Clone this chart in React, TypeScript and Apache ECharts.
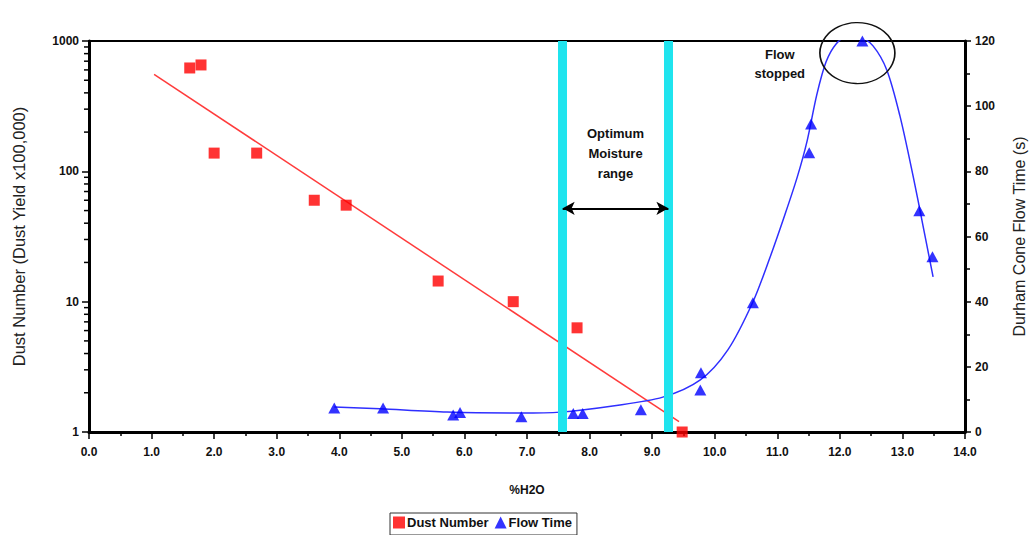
import React, { useEffect, useRef } from "react";
import * as echarts from "echarts";

// ---- Data ----
const dustX = [1.61, 1.79, 2.0, 2.68, 3.6, 4.11, 5.58, 6.78, 7.8, 9.48];
const dustY = [621, 655, 138, 138, 60, 55, 14.4, 10, 6.3, 1];

const trendX = [1.04, 9.43];
const trendY = [555, 1.2];

const flowX = [3.92, 4.7, 5.82, 5.93, 6.91, 7.74, 7.89, 8.82, 9.77, 9.78, 10.61, 11.51, 11.54, 12.36, 13.27, 13.48];
const flowY = [7.4, 7.4, 5.2, 6.0, 4.7, 5.7, 5.7, 6.8, 12.9, 18.2, 39.7, 85.7, 94.5, 120, 67.9, 53.8];

// fitted curve
const curveX = [3.92, 4.65, 5.72, 6.89, 7.53, 8.37, 9.17, 9.77, 10.21, 10.61, 10.88, 11.12, 11.32, 11.48, 11.63, 11.78, 11.94, 12.13, 12.32, 12.53, 12.75, 12.96, 13.17, 13.33, 13.49];
const curveY = [7.7, 7.1, 6.1, 5.8, 6.1, 8.0, 10.7, 16.0, 25.2, 39.9, 53.4, 66.6, 78.3, 89.6, 103.4, 113.6, 119.1, 121.5, 121.2, 118.5, 111.1, 97.0, 78.6, 63.2, 47.6];

const optimumBounds = [7.57, 9.26];
const arrowLevel = 52;

const xTickLabels = ["0.0", "1.0", "2.0", "3.0", "4.0", "5.0", "6.0", "7.0", "8.0", "9.0", "10.0", "11.0", "12.0", "13.0", "14.0"];
const minorLogTicks = [2, 3, 4, 5, 6, 7, 8, 9, 20, 30, 40, 50, 60, 70, 80, 90, 200, 300, 400, 500, 600, 700, 800, 900];

const FONT = "Liberation Sans, Arial, sans-serif";

export default function App() {
  const ref = useRef<HTMLDivElement>(null);
  useEffect(() => {
    if (!ref.current) return;
    const chart = echarts.init(ref.current, undefined, { renderer: "svg" });
    const option: any = {
      animation: false,
      backgroundColor: "#fff",
      textStyle: { fontFamily: FONT },
      grid: {
        left: 89,
        right: 65,
        top: 41,
        bottom: 103,
        containLabel: false,
        outerBoundsMode: "none",
        show: true,
        borderColor: "#000",
        borderWidth: 2,
        backgroundColor: "transparent",
      },
      legend: {
        left: 390,
        top: 513,
        orient: "horizontal",
        itemWidth: 12,
        itemHeight: 12,
        itemGap: 6,
        padding: [3, 5, 6, 3],
        borderColor: "#333",
        borderWidth: 1,
        borderRadius: 0,
        textStyle: { fontFamily: FONT, fontSize: 13, fontWeight: "bold", color: "#111", padding: [0, 0, 0, -3] },
        data: [
          { name: "Dust Number", icon: "rect" },
          { name: "Flow Time", icon: "triangle" },
        ],
      },
      xAxis: {
        type: "value",
        min: 0,
        max: 14,
        interval: 1,
        name: "%H2O",
        nameLocation: "middle",
        nameGap: 52,
        nameTextStyle: { fontFamily: FONT, fontSize: 12, fontWeight: "bold", color: "#111" },
        axisLine: { lineStyle: { color: "#000", width: 3 } },
        axisTick: { show: true, inside: false, length: 7, lineStyle: { color: "#000", width: 1.5 } },
        minorTick: { show: true, splitNumber: 2, length: 4, lineStyle: { color: "#000", width: 1.5 } },
        splitLine: { show: false },
        axisLabel: {
          margin: 14,
          fontFamily: FONT,
          fontSize: 12,
          fontWeight: "bold",
          color: "#111",
          formatter: (v: number) => xTickLabels[Math.round(v)] ?? "",
        },
      },
      yAxis: [
        {
          type: "log",
          logBase: 10,
          min: 1,
          max: 1000,
          position: "left",
          name: "Dust Number (Dust Yield x100,000)",
          nameLocation: "middle",
          nameGap: 62,
          nameRotate: 90,
          nameTextStyle: { fontFamily: FONT, fontSize: 16.5, color: "#222" },
          axisLine: { show: true, lineStyle: { color: "#000", width: 3 } },
          axisTick: { show: true, inside: false, length: 7, lineStyle: { color: "#000", width: 1.5 } },
          splitLine: { show: false },
          axisLabel: {
            margin: 10,
            fontFamily: FONT,
            fontSize: 12,
            fontWeight: "bold",
            color: "#111",
            formatter: (v: number) => String(Math.round(v)),
          },
        },
        {
          type: "value",
          min: 0,
          max: 120,
          interval: 20,
          position: "right",
          name: "Durham Cone Flow Time (s)",
          nameLocation: "middle",
          nameGap: 46,
          nameRotate: 90,
          nameTextStyle: { fontFamily: FONT, fontSize: 16, color: "#222" },
          axisLine: { show: true, lineStyle: { color: "#000", width: 3 } },
          axisTick: { show: true, inside: false, length: 6, lineStyle: { color: "#000", width: 1.5 } },
          minorTick: { show: true, splitNumber: 2, length: 5, lineStyle: { color: "#000", width: 1.5 } },
          splitLine: { show: false },
          axisLabel: { margin: 10, fontFamily: FONT, fontSize: 12, fontWeight: "bold", color: "#111" },
        },
      ],
      series: [
        {
          name: "minorLog",
          type: "custom",
          xAxisIndex: 0,
          yAxisIndex: 0,
          clip: false,
          silent: true,
          data: minorLogTicks.map((v) => [0, v]),
          renderItem: (_p: any, api: any) => {
            const p = api.coord([0, api.value(1)]);
            return {
              type: "line",
              shape: { x1: p[0] - 5, y1: p[1], x2: p[0], y2: p[1] },
              style: { stroke: "#000", lineWidth: 1.5 },
            };
          },
          z: 1,
        },
        {
          name: "optimum",
          type: "line",
          xAxisIndex: 0,
          yAxisIndex: 0,
          data: [],
          markLine: {
            silent: true,
            symbol: ["none", "none"],
            label: { show: false },
            lineStyle: { color: "#1fe4ee", width: 9, type: "solid" },
            data: optimumBounds.map((x) => ({ xAxis: x })),
          },
          z: 1,
        },
        {
          name: "arrow",
          type: "line",
          xAxisIndex: 0,
          yAxisIndex: 0,
          data: [],
          markLine: {
            silent: true,
            symbol: ["arrow", "arrow"],
            symbolSize: [10, 12],
            label: { show: false },
            lineStyle: { color: "#000", width: 2, type: "solid" },
            data: [[{ coord: [optimumBounds[0], arrowLevel] }, { coord: [optimumBounds[1], arrowLevel] }]],
          },
          markPoint: {
            silent: true,
            symbol: "circle",
            symbolSize: 0,
            label: {
              show: true,
              position: "inside",
              formatter: "Optimum\nMoisture\nrange",
              fontFamily: FONT,
              fontSize: 13,
              fontWeight: "bold",
              color: "#111",
              lineHeight: 20,
              align: "center",
            },
            data: [{ coord: [(optimumBounds[0] + optimumBounds[1]) / 2, 138] }],
          },
          z: 5,
        },
        {
          name: "Dust trend",
          type: "line",
          xAxisIndex: 0,
          yAxisIndex: 0,
          showSymbol: false,
          symbol: "none",
          silent: true,
          lineStyle: { color: "#ff3b3b", width: 1.5 },
          data: trendX.map((x, i) => [x, trendY[i]]),
          z: 3,
        },
        {
          name: "Flow fit",
          type: "line",
          xAxisIndex: 0,
          yAxisIndex: 1,
          showSymbol: false,
          symbol: "none",
          smooth: 0.3,
          silent: true,
          lineStyle: { color: "#2f2fff", width: 1.5 },
          data: curveX.map((x, i) => [x, curveY[i]]),
          markPoint: {
            silent: true,
            data: [
              {
                coord: [12.28, 116.3],
                symbol: "circle",
                symbolSize: [75, 61],
                itemStyle: { color: "rgba(0,0,0,0)", borderColor: "#111", borderWidth: 1.5 },
                label: { show: false },
              },
              {
                coord: [11.04, 113],
                symbol: "circle",
                symbolSize: 0,
                label: {
                  show: true,
                  position: "inside",
                  formatter: "Flow\nstopped",
                  fontFamily: FONT,
                  fontSize: 13,
                  fontWeight: "bold",
                  color: "#111",
                  lineHeight: 19,
                  align: "center",
                },
              },
            ],
          },
          z: 3,
        },
        {
          name: "Dust Number",
          type: "scatter",
          xAxisIndex: 0,
          yAxisIndex: 0,
          symbol: "rect",
          symbolSize: 11,
          clip: false,
          itemStyle: { color: "#ff0000" },
          data: dustX.map((x, i) => [x, dustY[i]]),
          z: 4,
        },
        {
          name: "Flow Time",
          type: "scatter",
          xAxisIndex: 0,
          yAxisIndex: 1,
          symbol: "triangle",
          symbolSize: [12, 11],
          clip: false,
          itemStyle: { color: "#0000ff" },
          data: flowX.map((x, i) => [x, flowY[i]]),
          z: 4,
        },
      ],
    };
    chart.setOption(option);
    return () => chart.dispose();
  }, []);
  return <div ref={ref} style={{ width: 1030, height: 535, position: "absolute", left: 0, top: 0 }} />;
}
